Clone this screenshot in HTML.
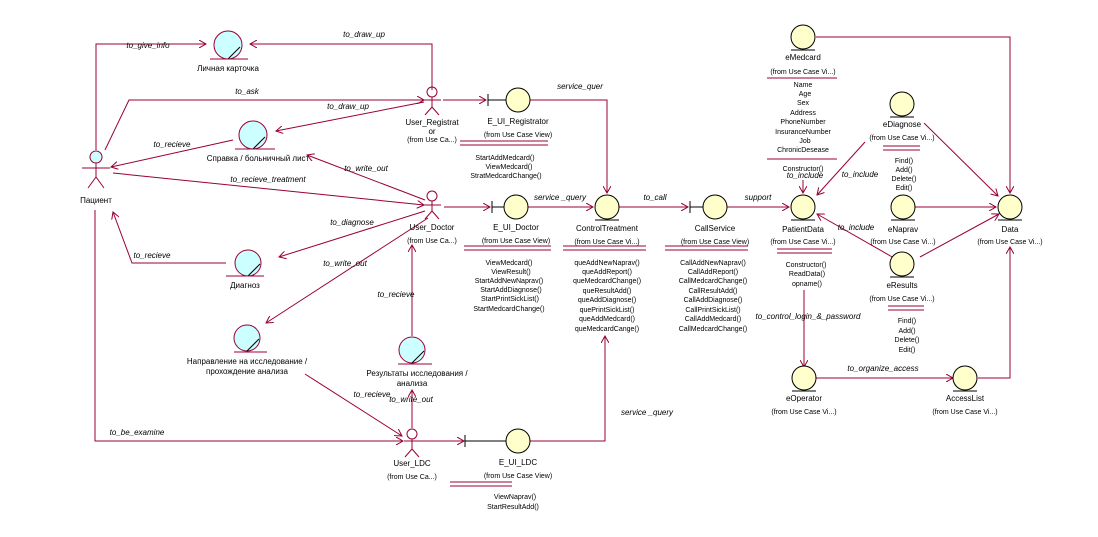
<!DOCTYPE html>
<html><head><meta charset="utf-8"><style>
html,body{margin:0;padding:0;background:#fff;}
svg{display:block;font-family:"Liberation Sans",sans-serif;}
.l{stroke:#990033;stroke-width:1;fill:none}
.t{font-size:8px;fill:#000;text-anchor:middle}
.i{font-size:8px;font-style:italic;fill:#000;text-anchor:middle}
.f{font-size:7px;fill:#000;text-anchor:middle}
.ent{fill:#ffffcc;stroke:#000;stroke-width:1}
.cy{fill:#ccffff;stroke:#990033;stroke-width:1}
</style></head><body>
<svg width="1098" height="537" viewBox="0 0 1098 537">
<defs>
<marker id="a" markerWidth="8" markerHeight="8" refX="7" refY="4" orient="auto" markerUnits="userSpaceOnUse"><path d="M0,0 L7,4 L0,8" fill="none" stroke="#990033"/></marker>
</defs>
<!-- connectors -->
<g class="l">
<path d="M96,150 V44 H206" marker-end="url(#a)"/>
<path d="M432,90 V44 H250" marker-end="url(#a)"/>
<path d="M105,150 L129,100 H424" marker-end="url(#a)"/>
<path d="M424,102 L276,131" marker-end="url(#a)"/>
<path d="M233,140 L111,167" marker-end="url(#a)"/>
<path d="M113,173 L424,205" marker-end="url(#a)"/>
<path d="M425,200 L307,155" marker-end="url(#a)"/>
<path d="M425,211 L279,257" marker-end="url(#a)"/>
<path d="M226,263 H132 L113,212" marker-end="url(#a)"/>
<path d="M428,218 L266,323" marker-end="url(#a)"/>
<path d="M412,336 V245" marker-end="url(#a)"/>
<path d="M305,374 L402,436" marker-end="url(#a)"/>
<path d="M412,428 V390" marker-end="url(#a)"/>
<path d="M95,210 V441 H403" marker-end="url(#a)"/>
<path d="M421,441 H464" marker-end="url(#a)"/>
<path d="M530,441 H605 V336" marker-end="url(#a)"/>
<path d="M443,100 H486" marker-end="url(#a)"/>
<path d="M530,100 H607 V193" marker-end="url(#a)"/>
<path d="M444,207 H490" marker-end="url(#a)"/>
<path d="M528,207 H593" marker-end="url(#a)"/>
<path d="M619,207 H688" marker-end="url(#a)"/>
<path d="M727,207 H789" marker-end="url(#a)"/>
<path d="M803,180 V193" marker-end="url(#a)"/>
<path d="M865,142 L817,195" marker-end="url(#a)"/>
<path d="M894,258 L817,214" marker-end="url(#a)"/>
<path d="M816,37 H1010 V193" marker-end="url(#a)"/>
<path d="M924,123 L998,196" marker-end="url(#a)"/>
<path d="M915,207 H996" marker-end="url(#a)"/>
<path d="M920,257 L999,214" marker-end="url(#a)"/>
<path d="M804,290 V367" marker-end="url(#a)"/>
<path d="M816,378 H953" marker-end="url(#a)"/>
<path d="M978,378 H1010 V247" marker-end="url(#a)"/>
</g>
<!-- connector labels -->
<g class="i">
<text x="148" y="48">to_give_info</text>
<text x="364" y="37">to_draw_up</text>
<text x="247" y="94">to_ask</text>
<text x="348" y="109">to_draw_up</text>
<text x="172" y="147">to_recieve</text>
<text x="268" y="182">to_recieve_treatment</text>
<text x="366" y="171">to_write_out</text>
<text x="352" y="225">to_diagnose</text>
<text x="152" y="258">to_recieve</text>
<text x="345" y="266">to_write_out</text>
<text x="396" y="297">to_recieve</text>
<text x="372" y="397">to_recieve</text>
<text x="411" y="402">to_write_out</text>
<text x="137" y="435">to_be_examine</text>
<text x="647" y="415">service _query</text>
<text x="580" y="89">service_quer</text>
<text x="560" y="200">service _query</text>
<text x="655" y="200">to_call</text>
<text x="758" y="200">support</text>
<text x="805" y="178">to_include</text>
<text x="860" y="177">to_include</text>
<text x="856" y="230">to_include</text>
<text x="808" y="319">to_control_login_&amp;_password</text>
<text x="883" y="371">to_organize_access</text>
</g>
<!-- cyan objects -->
<g>
<circle class="cy" cx="228" cy="45" r="14"/><path d="M228,59 L240,47" stroke="#000"/><line x1="210" y1="59" x2="248" y2="59" stroke="#990033"/>
<text class="t" x="228" y="71">Личная карточка</text>
<circle class="cy" cx="253" cy="135" r="14"/><path d="M253,149 L265,137" stroke="#000"/><line x1="235" y1="149" x2="275" y2="149" stroke="#990033"/>
<text class="t" x="258" y="161">Справка / больничный лист</text>
<circle class="cy" cx="248" cy="263" r="13"/><path d="M248,276 L260,264" stroke="#000"/><line x1="226" y1="276" x2="264" y2="276" stroke="#990033"/>
<text class="t" x="245" y="288">Диагноз</text>
<circle class="cy" cx="247" cy="338" r="13"/><path d="M247,351 L259,339" stroke="#000"/><line x1="234" y1="352" x2="267" y2="352" stroke="#990033"/>
<text class="t" x="247" y="364">Направление на исследование /</text>
<text class="t" x="247" y="374">прохождение анализа</text>
<circle class="cy" cx="412" cy="350" r="13"/><path d="M412,363 L424,351" stroke="#000"/><line x1="398" y1="364" x2="432" y2="364" stroke="#990033"/>
<text class="t" x="417" y="376">Результаты исследования /</text>
<text class="t" x="412" y="386">анализа</text>
</g>
<!-- actors -->
<g stroke="#990033" fill="none">
<circle cx="96" cy="157" r="6" fill="#ccffff"/><path d="M96,163 V177 M82,168 H110 M96,177 L88,188 M96,177 L104,188"/>
<circle cx="432" cy="92" r="5"/><path d="M432,97 V107 M424,100 H441 M432,107 L425,115 M432,107 L439,115"/>
<circle cx="432" cy="196" r="5"/><path d="M432,201 V211 M424,205 H441 M432,211 L425,219 M432,211 L439,219"/>
<circle cx="412" cy="434" r="5"/><path d="M412,439 V449 M404,441 H421 M412,449 L405,457 M412,449 L419,457"/>
</g>
<text class="t" x="96" y="203">Пациент</text>
<text class="t" x="432" y="125">User_Registrat</text><text class="t" x="432" y="134">or</text><text class="f" x="432" y="142">(from Use Ca...)</text>
<text class="t" x="432" y="230">User_Doctor</text><text class="f" x="432" y="243">(from Use Ca...)</text>
<text class="t" x="412" y="466">User_LDC</text><text class="f" x="412" y="479">(from Use Ca...)</text>
<!-- boundaries -->
<g stroke="#000">
<circle class="ent" cx="518" cy="100" r="12"/><line x1="488" y1="94" x2="488" y2="106"/><line x1="488" y1="100" x2="506" y2="100"/>
<circle class="ent" cx="516" cy="207" r="12"/><line x1="492" y1="201" x2="492" y2="213"/><line x1="492" y1="207" x2="504" y2="207"/>
<circle class="ent" cx="518" cy="441" r="12"/><line x1="465" y1="435" x2="465" y2="447"/><line x1="465" y1="441" x2="506" y2="441"/>
<circle class="ent" cx="607" cy="207" r="12"/>
<circle class="ent" cx="715" cy="207" r="12"/><line x1="690" y1="201" x2="690" y2="213"/><line x1="690" y1="207" x2="703" y2="207"/>
<circle class="ent" cx="803" cy="37" r="12"/>
<circle class="ent" cx="803" cy="207" r="12"/>
<circle class="ent" cx="902" cy="104" r="12"/>
<circle class="ent" cx="903" cy="207" r="12"/>
<circle class="ent" cx="902" cy="264" r="12"/>
<circle class="ent" cx="1010" cy="207" r="12"/>
<circle class="ent" cx="804" cy="378" r="12"/>
<circle class="ent" cx="965" cy="378" r="12"/>
<path d="M791,220 H815 M890,117 H914 M891,220 H915 M890,277 H914 M998,220 H1022 M792,391 H816 M953,391 H977 M595,220 H619 M791,50 H815" />
</g>
<!-- class lines -->
<g stroke="#990033">
<path d="M460,141 H548 M460,145 H548"/>
<path d="M464,246 H551 M464,250 H551"/>
<path d="M563,246 H646 M563,250 H646"/>
<path d="M665,246 H748 M665,250 H748"/>
<path d="M450,482 H512 M450,486 H512"/>
<path d="M767,78 H837 M767,159 H837"/>
<path d="M777,249 H832 M777,253 H832"/>
<path d="M883,146 H920 M883,150 H920"/>
<path d="M888,306 H924 M888,310 H924"/>
</g>
<!-- labels -->
<g class="t">
<text x="518" y="124">E_UI_Registrator</text><text class="f" x="518" y="137">(from Use Case View)</text>
<text x="516" y="230">E_UI_Doctor</text><text class="f" x="516" y="243">(from Use Case View)</text>
<text x="607" y="231">ControlTreatment</text><text class="f" x="607" y="244">(from Use Case Vi...)</text>
<text x="715" y="231">CallService</text><text class="f" x="715" y="244">(from Use Case View)</text>
<text x="518" y="465">E_UI_LDC</text><text class="f" x="518" y="478">(from Use Case View)</text>
<text x="803" y="60">eMedcard</text><text class="f" x="803" y="74">(from Use Case Vi...)</text>
<text x="803" y="232">PatientData</text><text class="f" x="803" y="244">(from Use Case Vi...)</text>
<text x="902" y="127">eDiagnose</text><text class="f" x="902" y="140">(from Use Case Vi...)</text>
<text x="903" y="232">eNaprav</text><text class="f" x="903" y="244">(from Use Case Vi...)</text>
<text x="902" y="288">eResults</text><text class="f" x="902" y="301">(from Use Case Vi...)</text>
<text x="1010" y="232">Data</text><text class="f" x="1010" y="244">(from Use Case Vi...)</text>
<text x="804" y="401">eOperator</text><text class="f" x="804" y="414">(from Use Case Vi...)</text>
<text x="965" y="401">AccessList</text><text class="f" x="965" y="414">(from Use Case Vi...)</text>
</g>
<g class="f">
<text x="505" y="160">StartAddMedcard()</text><text x="509" y="169">ViewMedcard()</text><text x="506" y="178">StratMedcardChange()</text>
<text x="509" y="265">ViewMedcard()</text><text x="511" y="274">ViewResult()</text><text x="509" y="283">StartAddNewNaprav()</text><text x="511" y="292">StartAddDiagnose()</text><text x="510" y="301">StartPrintSickList()</text><text x="509" y="311">StartMedcardChange()</text>
<text x="607" y="265">queAddNewNaprav()</text><text x="607" y="274">queAddReport()</text><text x="607" y="283">queMedcardChange()</text><text x="607" y="293">queResultAdd()</text><text x="607" y="302">queAddDiagnose()</text><text x="607" y="312">quePrintSickList()</text><text x="607" y="321">queAddMedcard()</text><text x="607" y="331">queMedcardCange()</text>
<text x="713" y="265">CallAddNewNaprav()</text><text x="713" y="274">CallAddReport()</text><text x="713" y="283">CallMedcardChange()</text><text x="713" y="293">CallResultAdd()</text><text x="713" y="302">CallAddDiagnose()</text><text x="713" y="312">CallPrintSickList()</text><text x="713" y="321">CallAddMedcard()</text><text x="713" y="331">CallMedcardChange()</text>
<text x="515" y="499">ViewNaprav()</text><text x="513" y="509">StartResultAdd()</text>
<text x="803" y="87">Name</text><text x="805" y="96">Age</text><text x="803" y="105">Sex</text><text x="803" y="115">Address</text><text x="803" y="124">PhoneNumber</text><text x="803" y="134">InsuranceNumber</text><text x="805" y="143">Job</text><text x="803" y="152">ChronicDesease</text><text x="803" y="171">Constructor()</text>
<text x="806" y="267">Constructor()</text><text x="807" y="276">ReadData()</text><text x="807" y="286">opname()</text>
<text x="904" y="163">Find()</text><text x="904" y="172">Add()</text><text x="904" y="181">Delete()</text><text x="904" y="190">Edit()</text>
<text x="907" y="323">Find()</text><text x="907" y="333">Add()</text><text x="907" y="342">Delete()</text><text x="907" y="352">Edit()</text>
</g>
</svg>
</body></html>
